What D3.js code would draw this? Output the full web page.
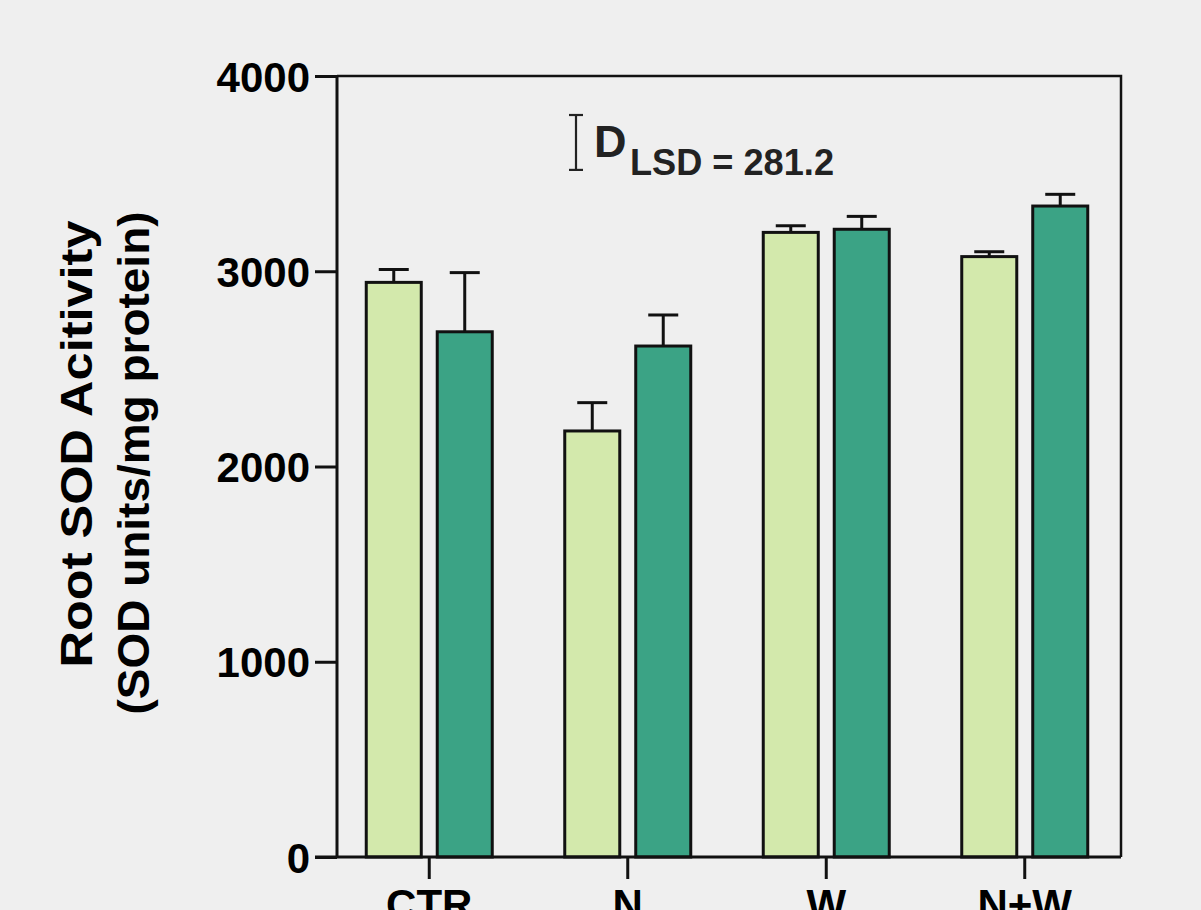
<!DOCTYPE html>
<html>
<head>
<meta charset="utf-8">
<script src="https://cdn.jsdelivr.net/npm/d3@7"></script>
<style>
  html, body { margin: 0; padding: 0; background: #efefef; }
  svg { display: block; }
  text { font-family: "Liberation Sans", Arial, Helvetica, sans-serif; font-weight: bold; }
</style>
</head>
<body>
<svg id="chart" width="1201" height="910"></svg>
<script>
const categories = ["CTR", "N", "W", "N+W"];
const series = ["light", "dark"];
const lightValues = [2943, 2182, 3199, 3075];
const lightErrors = [66, 145, 34, 25];
const darkValues = [2690, 2617, 3215, 3334];
const darkErrors = [303, 159, 66, 60];
const yTicks = [0, 1000, 2000, 3000, 4000];
const lsdValue = 281.2;
const seriesColors = { light: "#d3e9ac", dark: "#3ba385" };

const svg = d3.select("#chart");
const W = 1201, H = 910;
svg.append("rect").attr("width", W).attr("height", H).attr("fill", "#efefef");

const plotL = 337, plotR = 1121, plotT = 76, plotB = 857;

const y = d3.scaleLinear().domain([0, 4000]).range([plotB, plotT]);
const x0 = d3.scaleBand().domain(categories).range([330, 1124]).padding(0);
const x1 = d3.scaleBand().domain(series).range([-63, 63]).paddingInner(0.225);

const data = [];
categories.forEach((c, i) => {
  data.push({ cat: c, s: "light", v: lightValues[i], e: lightErrors[i] });
  data.push({ cat: c, s: "dark", v: darkValues[i], e: darkErrors[i] });
});
const cx = d => x0(d.cat) + x0.bandwidth() / 2 + x1(d.s);

// Error bars (drawn first, bar covers lower part)
const eb = svg.append("g").attr("stroke", "#111").attr("stroke-width", 3).attr("fill", "none");
data.forEach(d => {
  const mid = cx(d) + x1.bandwidth() / 2;
  eb.append("line").attr("x1", mid).attr("x2", mid).attr("y1", y(d.v)).attr("y2", y(d.v + d.e));
  eb.append("line").attr("x1", mid - 15).attr("x2", mid + 15).attr("y1", y(d.v + d.e)).attr("y2", y(d.v + d.e));
});

// Bars
svg.append("g").selectAll("rect").data(data).join("rect")
  .attr("x", d => cx(d))
  .attr("y", d => y(d.v))
  .attr("width", x1.bandwidth())
  .attr("height", d => plotB - y(d.v))
  .attr("fill", d => seriesColors[d.s])
  .attr("stroke", "#111")
  .attr("stroke-width", 3);

// Frame: top and right
svg.append("path")
  .attr("d", `M${plotL},${plotT}H${plotR}V${plotB}`)
  .attr("fill", "none").attr("stroke", "#111").attr("stroke-width", 2.5);

// Y axis
const yAxis = d3.axisLeft(y).tickValues(yTicks).tickSize(22).tickPadding(5).tickFormat(d3.format("d"));
const gy = svg.append("g").attr("transform", `translate(${plotL},0)`).call(yAxis);
gy.select(".domain").attr("stroke", "#111").attr("stroke-width", 3).attr("d", `M0,${plotT}V${plotB}`);
gy.selectAll(".tick line").attr("stroke", "#111").attr("stroke-width", 3);
gy.selectAll(".tick text").attr("fill", "#000").attr("font-size", 42).attr("dy", "0.36em")
  .attr("font-family", "'Liberation Sans', Arial, sans-serif").attr("font-weight", "bold");

// X axis
const xAxis = d3.axisBottom(x0).tickSize(22).tickPadding(10);
const gx = svg.append("g").attr("transform", `translate(0,${plotB})`).call(xAxis);
gx.select(".domain").attr("stroke", "#111").attr("stroke-width", 3).attr("d", `M${plotL - 22},0H${plotR}`);
gx.selectAll(".tick line").attr("stroke", "#111").attr("stroke-width", 3);
gx.selectAll(".tick text").attr("fill", "#000").attr("font-size", 42)
  .attr("font-family", "'Liberation Sans', Arial, sans-serif").attr("font-weight", "bold");

// Y axis title (two lines)
svg.append("text").attr("transform", "translate(92,444) rotate(-90)")
  .attr("text-anchor", "middle").attr("font-size", 44).attr("fill", "#000")
  .attr("textLength", 447).attr("lengthAdjust", "spacingAndGlyphs")
  .text("Root SOD Acitivity");
svg.append("text").attr("transform", "translate(149,463) rotate(-90)")
  .attr("text-anchor", "middle").attr("font-size", 44).attr("fill", "#000")
  .attr("textLength", 503).attr("lengthAdjust", "spacingAndGlyphs")
  .text("(SOD units/mg protein)");

// LSD annotation
const lsdX = 576, lsdTop = 115;
const lsdBot = lsdTop + (y(0) - y(lsdValue));
const lg = svg.append("g").attr("stroke", "#222").attr("stroke-width", 2.2);
lg.append("line").attr("x1", lsdX).attr("x2", lsdX).attr("y1", lsdTop).attr("y2", lsdBot);
lg.append("line").attr("x1", lsdX - 7).attr("x2", lsdX + 7).attr("y1", lsdTop).attr("y2", lsdTop);
lg.append("line").attr("x1", lsdX - 7).attr("x2", lsdX + 7).attr("y1", lsdBot).attr("y2", lsdBot);

const lt = svg.append("text").attr("x", 594).attr("y", 157).attr("fill", "#222");
lt.append("tspan").attr("font-size", 45).text("D");
lt.append("tspan").attr("x", 630).attr("y", 175).attr("font-size", 36)
  .attr("textLength", 204).attr("lengthAdjust", "spacingAndGlyphs")
  .text("LSD = " + lsdValue);
</script>
</body>
</html>
